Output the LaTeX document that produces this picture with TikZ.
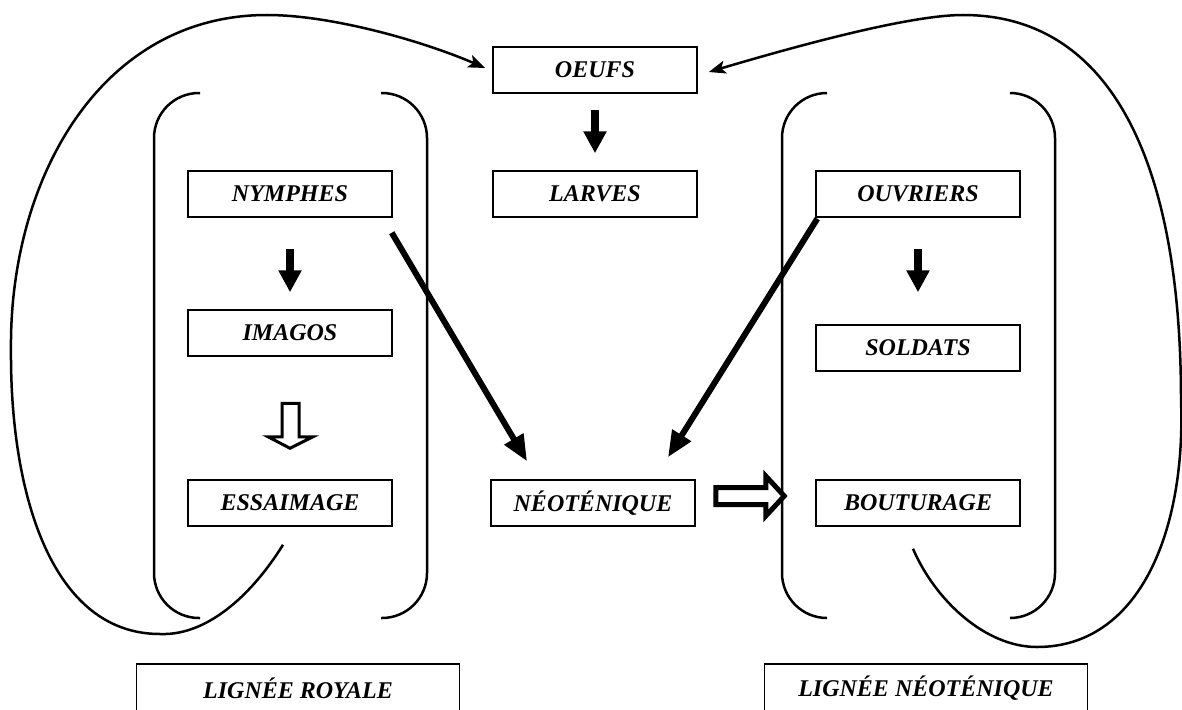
\documentclass[tikz,border=0pt]{standalone}
\usepackage{fontspec}
\setmainfont{Liberation Serif}
\usetikzlibrary{arrows.meta,calc}
\tikzset{
  bx/.style={draw, line width=1.5pt, minimum width=204pt, minimum height=46pt, inner sep=0pt,
    font=\fontsize{24}{24}\selectfont\bfseries\itshape},
  lbx/.style={bx, minimum width=323pt, minimum height=48pt},
  shortarr/.style={line width=8.5pt, -{Triangle[width=22pt,length=22pt]}},
  diagarr/.style={line width=6pt, -{Triangle[width=21pt,length=26pt]}},
  looparr/.style={line width=2.5pt, -{Stealth[length=17pt,width=13pt,inset=4pt]}},
  brk/.style={line width=2.5pt, rounded corners=45pt},
  hollow/.style={draw, line join=miter, fill=white}
}
\begin{document}
\begin{tikzpicture}[x=1pt,y=-1pt]
\useasboundingbox (0,0) rectangle (1182,709);
\clip (0,0) rectangle (1182,709);
% boxes
\node[bx] (oeufs) at (595,70) {OEUFS};
\node[bx] (larves) at (595,194) {LARVES};
\node[bx] (nymphes) at (290,194) {NYMPHES};
\node[bx] (ouvriers) at (918,194) {OUVRIERS};
\node[bx] (imagos) at (290,333) {IMAGOS};
\node[bx] (soldats) at (918,348) {SOLDATS};
\node[bx] (essaimage) at (290,503) {ESSAIMAGE};
\node[bx] (neo) at (593,503) {NÉOTÉNIQUE};
\node[bx] (bouturage) at (918,503) {BOUTURAGE};
\node[lbx] (royale) at (298,688) {LIGNÉE ROYALE};
\node[lbx] (lneo) at (926,688) {LIGNÉE NÉOTÉNIQUE};
% brackets
\draw[brk] (200,93) -- (154,93) -- (154,618) -- (200,618);
\draw[brk] (381,93) -- (427,93) -- (427,618) -- (381,618);
\draw[brk] (827,93) -- (782,93) -- (782,618) -- (827,618);
\draw[brk] (1010,93) -- (1055,93) -- (1055,618) -- (1010,618);
% short arrows
\draw[shortarr] ($(oeufs.south)+(0,16)$) -- ($(larves.north)+(0,-17)$);
\draw[shortarr] ($(nymphes.south)+(0,31)$) -- ($(imagos.north)+(0,-17)$);
\draw[shortarr] ($(ouvriers.south)+(0,31)$) -- ($(soldats.north)+(0,-32)$);
% diagonal arrows
\draw[diagarr] ($(nymphes.south east)+(-1,15)$) -- ($(neo.north)+(-66,-18)$);
\draw[diagarr] ($(ouvriers.south west)+(2,1)$) -- ($(neo.north)+(75,-22)$);
% hollow arrows
\coordinate (h1) at ($(imagos.south)+(0,45)$);
\draw[hollow, line width=3pt] ($(h1)+(-8,1.5)$) -- ($(h1)+(9,1.5)$) -- ($(h1)+(9,35)$) -- ($(h1)+(23,35)$)
  -- ($(essaimage.north)+(0,-31)$) -- ($(h1)+(-22,35)$) -- ($(h1)+(-8,35)$) -- cycle;
\coordinate (h2) at ($(neo.east)+(20,-7)$);
\draw[hollow, line width=5pt] ($(h2)+(0,-8.5)$) -- ($(h2)+(50,-8.5)$) -- ($(h2)+(50,-20)$)
  -- ($(bouturage.west)+(-31,-7)$) -- ($(h2)+(50,20)$) -- ($(h2)+(50,8.5)$) -- ($(h2)+(0,8.5)$) -- cycle;
% loops
\coordinate (ls) at ($(essaimage.south)+(-7,18)$);
\coordinate (le) at ($(oeufs.west)+(-7,-2)$);
\draw[looparr] (ls) .. controls (255,590) and (210,636) .. (160,634)
  .. controls (50,634) and (10,490) .. (11,350)
  .. controls (9,180) and (100,15) .. (267,15)
  .. controls (330,15) and (420,40) .. (le);
\coordinate (rs) at ($(bouturage.south)+(-5,22)$);
\coordinate (re) at ($(oeufs.east)+(11,2)$);
\draw[looparr] (rs) .. controls (935,600) and (985,647) .. (1037,647)
  .. controls (1140,647) and (1186,530) .. (1181,400)
  .. controls (1181,160) and (1110,15) .. (963,15)
  .. controls (910,15) and (800,45) .. (re);
\end{tikzpicture}
\end{document}
